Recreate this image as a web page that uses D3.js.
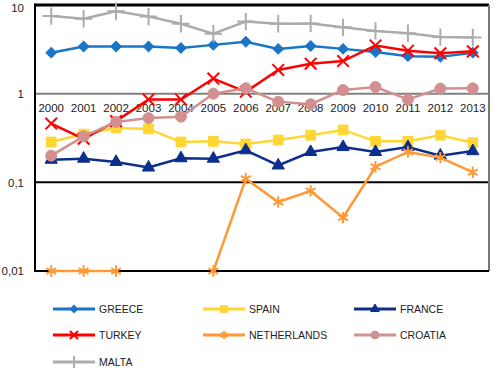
<!DOCTYPE html>
<html>
<head>
<meta charset="utf-8">
<script src="https://cdn.jsdelivr.net/npm/d3@7"></script>
<style>
  body { margin: 0; background: #fff; }
  text { font-family: "Liberation Sans", Arial, sans-serif; fill: #222; }
</style>
</head>
<body>
<div id="chart"></div>
<script>
// years on the x axis
var years = ["2000","2001","2002","2003","2004","2005","2006","2007","2008","2009","2010","2011","2012","2013"];

// values per country (log scale)
var greece      = [2.9, 3.4, 3.4, 3.4, 3.27, 3.55, 3.85, 3.2, 3.45, 3.2, 2.95, 2.65, 2.6, 2.9];
var spain       = [0.285, 0.35, 0.41, 0.40, 0.285, 0.29, 0.27, 0.30, 0.34, 0.39, 0.29, 0.29, 0.34, 0.28];
var france      = [0.18, 0.185, 0.17, 0.147, 0.187, 0.185, 0.23, 0.155, 0.22, 0.25, 0.22, 0.25, 0.20, 0.225];
var turkey      = [0.46, 0.31, 0.49, 0.86, 0.86, 1.48, 1.05, 1.85, 2.18, 2.33, 3.5, 3.05, 2.85, 3.0];
var netherlands = [0.01, 0.01, 0.01, null, null, 0.01, 0.11, 0.06, 0.08, 0.04, 0.15, 0.22, 0.19, 0.13];
var croatia     = [0.2, 0.33, 0.48, 0.53, 0.55, 1.0, 1.15, 0.81, 0.76, 1.1, 1.19, 0.86, 1.14, 1.15];
var malta       = [7.5, 7.0, 8.5, 7.4, 6.15, 4.75, 6.5, 6.15, 6.2, 5.6, 5.1, 4.8, 4.35, 4.3];

// y tick values and their labels
var yTicks = [0.01, 0.1, 1, 10];
var yTickLabels = ["0,01", "0,1", "1", "10"];

var series = [
  {name: "GREECE",      values: greece,      color: "#1b75c6", symbol: d3.symbolSquare,   size: 55, fill: true, rotate: 45},
  {name: "SPAIN",       values: spain,       color: "#ffd633", symbol: d3.symbolSquare,   size: 95, fill: true},
  {name: "FRANCE",      values: france,      color: "#0c2e8c", symbol: d3.symbolTriangle, size: 65, fill: true},
  {name: "TURKEY",      values: turkey,      color: "#ff0000", symbol: d3.symbolTimes,    size: 90, fill: false},
  {name: "NETHERLANDS", values: netherlands, color: "#ff9933", symbol: d3.symbolAsterisk, size: 90, fill: false},
  {name: "CROATIA",     values: croatia,     color: "#d39090", symbol: d3.symbolCircle,   size: 95, fill: true},
  {name: "MALTA",       values: malta,       color: "#acacac", symbol: d3.symbolPlus,     size: 100, fill: false}
];

var width = 500, height = 380;
var plotLeft = 35, plotRight = 489, plotTop = 5, plotBottom = 271;

var svg = d3.select("#chart").append("svg")
    .attr("width", width)
    .attr("height", height);

var x = d3.scaleBand()
    .domain(years)
    .range([plotLeft, plotRight]);

var y = d3.scaleLog()
    .domain([0.01, 10])
    .range([plotBottom, plotTop]);

// grid lines at 0,1 and 1
svg.append("line")
    .attr("x1", plotLeft).attr("x2", plotRight)
    .attr("y1", y(0.1)).attr("y2", y(0.1))
    .attr("stroke", "#000").attr("stroke-width", 2);
svg.append("line")
    .attr("x1", plotLeft).attr("x2", plotRight)
    .attr("y1", y(1)).attr("y2", y(1))
    .attr("stroke", "#808080").attr("stroke-width", 2);

// frame
svg.append("line").attr("x1", plotLeft).attr("x2", plotRight).attr("y1", plotTop).attr("y2", plotTop)
    .attr("stroke", "#000").attr("stroke-width", 3);
svg.append("line").attr("x1", plotRight).attr("x2", plotRight).attr("y1", plotTop).attr("y2", plotBottom)
    .attr("stroke", "#777").attr("stroke-width", 2);
svg.append("line").attr("x1", plotLeft).attr("x2", plotRight).attr("y1", plotBottom).attr("y2", plotBottom)
    .attr("stroke", "#000").attr("stroke-width", 2);
svg.append("line").attr("x1", plotLeft).attr("x2", plotLeft).attr("y1", plotTop - 1.5).attr("y2", plotBottom + 1)
    .attr("stroke", "#000").attr("stroke-width", 2);

// y axis labels
var yAxis = svg.append("g")
    .attr("transform", "translate(" + plotLeft + ",0)")
    .call(d3.axisLeft(y)
        .tickValues(yTicks)
        .tickFormat(function(d, i) { return yTickLabels[i]; })
        .tickSize(0)
        .tickPadding(11));
yAxis.select(".domain").remove();
yAxis.selectAll("text").style("font-size", "11.5px").attr("fill", "#222");
// keep the top label inside the picture
yAxis.selectAll("text").filter(function(d) { return d === 10; }).attr("dy", "0.6em");

// x axis labels sit under the 1 line
var xAxis = svg.append("g")
    .attr("transform", "translate(0," + y(1) + ")")
    .call(d3.axisBottom(x).tickSize(0).tickPadding(10));
xAxis.select(".domain").remove();
xAxis.selectAll("text").style("font-size", "11.5px").attr("fill", "#222");

var line = d3.line()
    .defined(function(d) { return d != null; })
    .x(function(d, i) { return x(years[i]) + x.bandwidth() / 2; })
    .y(function(d) { return y(d); });

series.forEach(function(s) {
  var g = svg.append("g");
  g.append("path")
      .attr("d", line(s.values))
      .attr("fill", "none")
      .attr("stroke", s.color)
      .attr("stroke-width", 2.5);

  g.selectAll("path.pt")
      .data(s.values.map(function(v, i) { return {v: v, i: i}; })
                    .filter(function(d) { return d.v != null; }))
      .enter().append("path")
      .attr("class", "pt")
      .attr("transform", function(d) {
        return "translate(" + (x(years[d.i]) + x.bandwidth() / 2) + "," + y(d.v) + ")" +
               (s.rotate ? " rotate(" + s.rotate + ")" : "");
      })
      .attr("d", d3.symbol().type(s.symbol).size(s.size))
      .attr("fill", s.fill ? s.color : "none")
      .attr("stroke", s.color)
      .attr("stroke-width", s.fill ? 1 : 2);
});

// legend, three columns
var legendCols = [53, 203, 354];
var legendRows = [309, 335, 362];

var legend = svg.selectAll("g.legend")
    .data(series)
    .enter().append("g")
    .attr("class", "legend")
    .attr("transform", function(d, i) {
      return "translate(" + legendCols[i % 3] + "," + legendRows[Math.floor(i / 3)] + ")";
    });

legend.append("line")
    .attr("x1", 0).attr("x2", 42)
    .attr("stroke", function(d) { return d.color; })
    .attr("stroke-width", 3);

legend.append("path")
    .attr("transform", function(d) { return "translate(21,0)" + (d.rotate ? " rotate(" + d.rotate + ")" : ""); })
    .attr("d", function(d) { return d3.symbol().type(d.symbol).size(d.size * 0.5)(); })
    .attr("fill", function(d) { return d.fill ? d.color : "none"; })
    .attr("stroke", function(d) { return d.color; })
    .attr("stroke-width", function(d) { return d.fill ? 1 : 2; });

legend.append("text")
    .attr("x", 46)
    .attr("dy", "0.35em")
    .style("font-size", "10.5px")
    .text(function(d) { return d.name; });
</script>
</body>
</html>
